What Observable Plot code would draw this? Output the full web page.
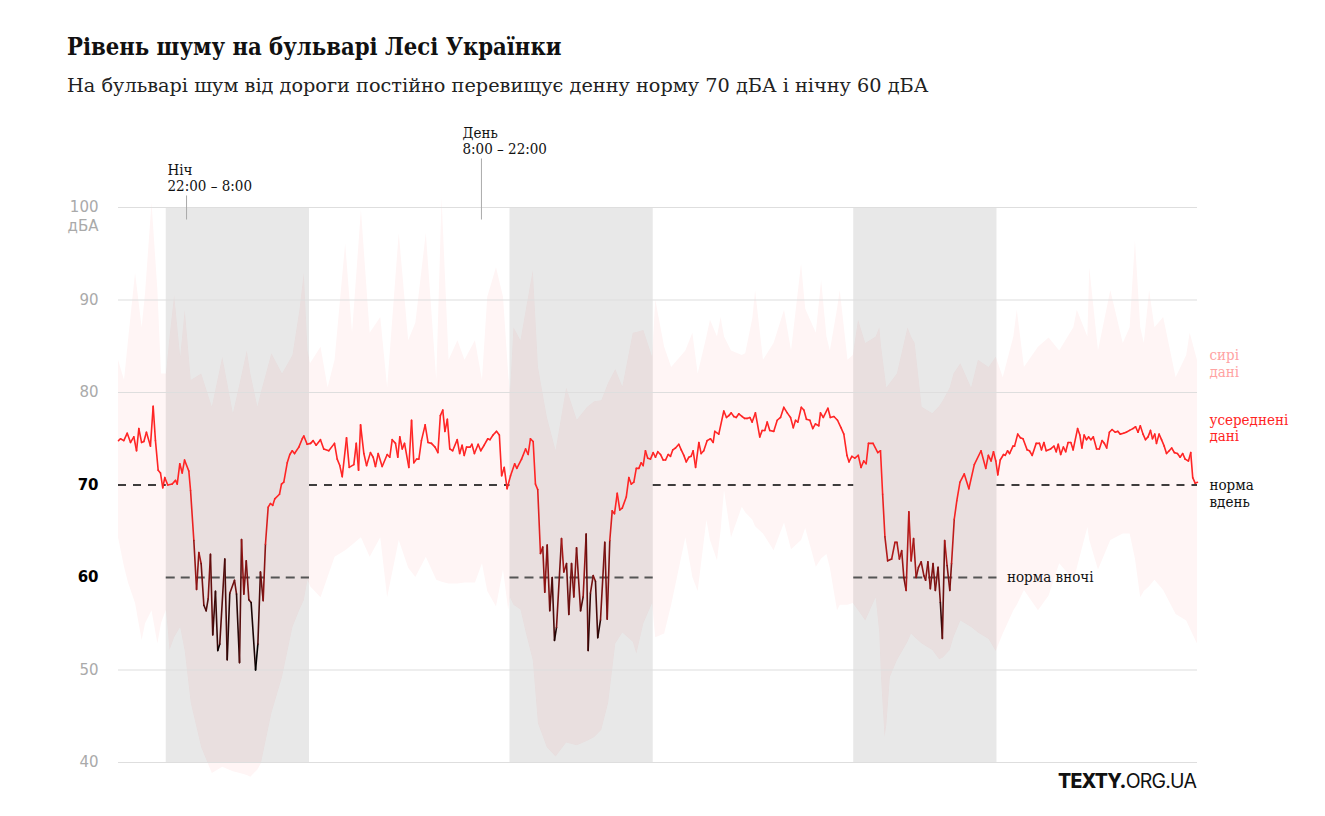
<!DOCTYPE html>
<html><head><meta charset="utf-8">
<script src="https://cdn.jsdelivr.net/npm/d3@7"></script>
<script src="https://cdn.jsdelivr.net/npm/@observablehq/plot@0.6"></script>
<style>
body{margin:0;background:#fff;width:1325px;height:816px;overflow:hidden;position:relative;font-family:"DejaVu Serif Condensed","DejaVu Serif",serif;}
#title{position:absolute;left:67px;top:33px;font-size:23.6px;font-weight:bold;color:#111;white-space:nowrap;}
#subtitle{position:absolute;left:67px;top:74px;font-family:"DejaVu Serif",serif;font-size:19.3px;color:#222;white-space:nowrap;}
#chart{position:absolute;left:0;top:110px;}
#logo{position:absolute;left:1058px;top:769px;font-family:Inter,Roboto,sans-serif;font-size:19.5px;color:#111;letter-spacing:-0.8px;white-space:nowrap;}
#logo b{font-weight:800;}
</style></head><body>
<div id="title">Рівень шуму на бульварі Лесі Українки</div>
<div id="subtitle">На бульварі шум від дороги постійно перевищує денну норму 70 дБА і нічну 60 дБА</div>
<div id="chart"></div>
<div id="logo"><b>TEXTY.</b>ORG.UA</div>
<script>
// hours since 18:40 of the first day, averaged level in dBA
const avgSeries = [[0,74.8],[0.14,75.0],[0.37,74.8],[0.61,75.6],[0.84,74.6],[1.07,75.2],[1.26,73.7],[1.42,76.1],[1.61,74.6],[1.77,74.7],[1.95,75.7],[2.23,74.2],[2.42,78.5],[2.58,74.8],[2.77,71.6],[2.93,71.3],[3.09,69.7],[3.23,70.8],[3.44,70.0],[3.75,70.1],[3.98,70.5],[4.10,70.1],[4.28,72.3],[4.45,71.3],[4.61,72.7],[4.91,71.5],[5.03,69.4],[5.26,64.0],[5.45,58.7],[5.61,62.7],[5.77,61.5],[5.96,57.0],[6.12,56.4],[6.26,57.7],[6.42,62.5],[6.58,53.8],[6.77,58.5],[6.93,52.1],[7.07,52.8],[7.42,62.0],[7.59,51.1],[7.77,58.3],[8.10,59.7],[8.24,58.2],[8.45,50.8],[8.59,64.1],[8.75,58.2],[8.92,61.8],[9.10,57.6],[9.26,57.3],[9.57,50.0],[9.73,52.8],[9.91,60.6],[10.10,57.5],[10.26,63.6],[10.45,67.6],[10.61,68.0],[10.77,67.8],[10.91,68.5],[11.24,69.0],[11.38,70.1],[11.54,70.3],[11.78,72.4],[11.96,73.3],[12.13,73.7],[12.29,73.4],[12.59,74.1],[12.83,75.0],[12.94,75.3],[13.17,74.4],[13.41,74.5],[13.59,74.8],[13.80,74.3],[14.10,74.9],[14.33,73.9],[14.68,73.7],[15.08,74.5],[15.27,72.8],[15.45,72.1],[15.62,70.9],[15.92,75.1],[16.11,71.9],[16.43,72.2],[16.60,74.5],[16.76,71.6],[16.90,76.5],[17.13,73.4],[17.32,72.1],[17.59,73.5],[17.78,73.0],[17.94,72.0],[18.13,73.4],[18.41,72.0],[18.76,73.3],[18.94,73.0],[19.11,74.9],[19.34,74.5],[19.50,73.0],[19.64,75.2],[19.81,73.9],[19.97,74.5],[20.27,71.9],[20.46,77.0],[20.62,72.4],[20.81,72.8],[20.97,72.8],[21.15,74.8],[21.41,76.5],[21.61,74.6],[21.85,74.5],[22.10,74.1],[22.30,73.5],[22.47,77.5],[22.64,78.1],[22.79,75.8],[22.96,77.1],[23.13,73.9],[23.33,73.7],[23.65,74.9],[23.82,73.4],[23.99,74.3],[24.14,73.2],[24.30,74.1],[24.55,74.1],[24.67,74.4],[24.85,73.4],[25.11,74.4],[25.29,73.7],[25.53,74.3],[25.78,75.0],[25.94,74.9],[26.15,75.4],[26.39,75.8],[26.59,75.4],[26.75,71.0],[26.93,71.9],[27.13,69.6],[27.37,71.0],[27.66,72.3],[27.81,71.8],[28.14,72.8],[28.42,73.9],[28.60,73.3],[28.76,75.0],[28.95,74.7],[29.11,70.1],[29.27,69.5],[29.46,62.6],[29.62,63.3],[29.76,58.4],[29.93,63.5],[30.11,56.4],[30.28,60.0],[30.44,53.2],[30.58,54.6],[30.93,64.2],[31.09,60.6],[31.28,61.5],[31.44,56.0],[31.63,61.5],[31.79,57.9],[31.98,63.2],[32.26,56.4],[32.44,57.9],[32.65,64.7],[32.79,52.1],[32.95,58.3],[33.14,60.2],[33.30,59.6],[33.46,53.5],[33.65,55.4],[33.95,63.8],[34.12,55.5],[34.30,64.0],[34.47,67.2],[34.63,66.9],[34.82,69.1],[35.00,67.3],[35.17,67.5],[35.45,68.7],[35.63,70.8],[35.80,70.1],[35.98,70.3],[36.15,71.8],[36.33,71.8],[36.49,72.4],[36.63,72.1],[36.79,73.7],[36.95,72.9],[37.14,72.8],[37.33,73.5],[37.49,73.0],[37.65,73.6],[37.84,73.3],[38.03,72.7],[38.19,72.7],[38.38,73.3],[38.54,73.1],[38.70,73.8],[38.89,74.0],[39.12,74.4],[39.29,73.8],[39.47,73.2],[39.64,72.5],[39.82,73.0],[39.98,73.1],[40.12,73.7],[40.29,71.9],[40.52,74.6],[40.68,73.4],[40.86,73.7],[41.10,74.8],[41.33,75.0],[41.52,74.6],[41.63,75.8],[41.91,75.5],[42.26,78.0],[42.45,77.3],[42.61,77.5],[42.78,77.8],[42.96,77.4],[43.13,77.3],[43.31,77.7],[43.55,77.4],[43.71,77.2],[43.89,77.2],[44.08,77.3],[44.24,76.8],[44.47,77.8],[44.77,75.2],[44.94,75.9],[45.12,75.9],[45.29,76.8],[45.47,75.9],[45.75,75.8],[45.99,77.0],[46.22,77.3],[46.45,78.4],[46.69,77.8],[46.92,77.3],[47.11,76.2],[47.27,77.0],[47.43,76.8],[47.67,78.4],[47.85,78.1],[48.03,77.1],[48.27,77.0],[48.47,76.1],[48.66,76.6],[48.89,76.4],[49.01,77.8],[49.21,77.3],[49.53,78.3],[49.70,77.3],[49.95,77.4],[50.20,77.0],[50.44,76.2],[50.64,75.5],[50.86,73.2],[51.00,72.5],[51.20,73.1],[51.41,72.9],[51.65,73.2],[51.84,71.9],[52.03,72.6],[52.20,72.3],[52.36,74.5],[52.68,74.5],[53.01,73.5],[53.20,73.7],[53.35,69.0],[53.51,64.4],[53.70,61.8],[53.98,62.0],[54.21,63.8],[54.35,63.8],[54.52,62.0],[54.68,62.9],[54.83,60.0],[54.99,58.6],[55.18,67.1],[55.34,61.8],[55.51,64.2],[55.69,60.0],[55.85,61.1],[56.04,61.7],[56.23,60.2],[56.35,59.7],[56.51,61.7],[56.68,58.8],[56.87,61.5],[57.03,58.6],[57.22,61.1],[57.38,57.3],[57.52,53.4],[57.68,64.0],[57.85,61.3],[58.04,58.6],[58.16,61.5],[58.35,66.3],[58.53,68.3],[58.75,70.3],[59.05,71.2],[59.37,69.6],[59.75,72.2],[60.22,73.7],[60.55,71.8],[60.73,73.2],[60.92,72.6],[61.09,73.6],[61.25,72.6],[61.39,71.1],[61.56,72.7],[61.79,73.3],[61.91,73.2],[62.07,73.7],[62.21,73.4],[62.45,74.2],[62.56,74.2],[62.78,75.5],[62.97,75.1],[63.15,75.0],[63.44,73.8],[63.60,73.7],[63.79,73.2],[64.07,74.5],[64.30,74.5],[64.44,73.8],[64.61,74.6],[64.77,73.7],[65.08,73.9],[65.31,74.2],[65.47,73.6],[65.61,74.4],[65.78,73.3],[65.97,74.1],[66.13,73.6],[66.30,74.6],[66.49,74.6],[66.65,73.8],[66.96,76.1],[67.12,75.4],[67.26,74.0],[67.42,75.4],[67.58,74.9],[67.73,75.2],[67.89,74.9],[68.06,75.2],[68.29,73.9],[68.48,73.9],[68.67,74.8],[68.83,74.5],[68.99,74.0],[69.18,75.7],[69.37,76.0],[69.60,75.7],[69.77,75.8],[69.94,75.5],[70.17,75.6],[70.36,75.7],[70.59,75.9],[70.82,76.1],[71.01,76.3],[71.18,75.7],[71.34,76.4],[71.53,75.5],[71.70,74.9],[71.88,75.2],[72.05,75.9],[72.19,75.0],[72.35,75.5],[72.47,74.5],[72.65,75.5],[72.82,74.9],[73.01,74.2],[73.17,73.4],[73.36,73.7],[73.53,74.0],[73.72,73.5],[73.93,73.4],[74.12,73.0],[74.30,73.4],[74.47,72.8],[74.70,72.6],[74.86,73.5],[75.00,70.8],[75.17,70.2],[75.33,70.3]];

// raw data envelope: [hour, min dBA, max dBA]
const rawSeries = [[0,64.3,83.5],[0.42,61.1,81.3],[0.70,59.4,85.6],[1.19,57.2,92.9],[1.65,53.2,87.0],[1.89,55.0,90.7],[2.34,56.4,100.5],[2.75,52.8,91.0],[3.00,55.0,82.0],[3.35,56.5,82.0],[3.60,52.1,86.0],[3.92,53.5,90.5],[4.34,54.6,83.8],[4.66,52.0,88.9],[5.08,46.4,81.3],[5.81,41.6,82.0],[6.55,38.8,78.4],[7.28,39.5,83.8],[8.02,39.0,77.7],[8.50,38.8,81.0],[8.99,38.6,84.5],[9.24,38.4,82.0],[9.73,39.2,78.4],[9.98,39.9,80.0],[10.71,45.3,84.2],[11.45,49.2,82.0],[12.18,54.6,84.0],[12.67,56.5,88.9],[12.97,57.5,92.9],[13.23,59.7,84.5],[13.41,59.0,83.1],[14.14,57.8,84.9],[14.63,60.0,80.5],[15.12,62.2,83.5],[15.86,62.9,96.1],[16.34,63.5,86.4],[16.96,64.3,99.7],[17.57,62.2,86.4],[18.31,64.3,88.1],[18.79,57.8,80.5],[19.60,64.0,97.2],[20.26,61.0,85.6],[20.76,60.0,87.5],[21.49,62.2,97.2],[22.22,59.7,81.3],[22.59,59.5,101.0],[23.08,59.3,83.5],[23.70,59.3,85.6],[24.19,59.4,83.5],[24.92,59.4,85.6],[25.41,61.5,81.3],[25.78,58.5,90.3],[26.39,56.8,93.5],[26.88,60.8,90.3],[27.24,56.5,82.0],[27.37,57.8,79.9],[27.61,57.0,87.0],[28.10,56.5,85.6],[28.47,54.0,88.9],[28.96,51.0,93.2],[29.32,44.2,82.7],[29.94,41.6,77.3],[30.55,40.6,73.7],[31.29,42.1,80.5],[32.03,41.8,77.0],[32.76,42.3,78.4],[33.25,42.7,79.0],[33.74,43.5,79.1],[34.22,46.4,81.0],[34.72,52.8,82.5],[35.21,54.0,80.6],[35.94,53.0,86.4],[36.19,51.7,86.5],[36.68,55.0,86.7],[37.29,57.2,83.8],[37.51,53.5,90.0],[38.13,53.9,84.9],[38.62,57.0,82.7],[39.61,64.3,84.5],[40.10,60.0,86.4],[40.47,58.5,82.0],[41.08,66.2,86.0],[41.33,64.0,87.8],[41.82,61.8,86.0],[42.07,65.0,88.1],[42.31,69.4,86.0],[42.80,64.3,84.5],[43.55,67.6,84.0],[43.79,67.0,84.2],[44.29,66.2,88.0],[44.48,65.5,91.0],[45.03,64.7,83.5],[45.77,62.9,85.3],[46.50,65.9,88.9],[46.99,63.0,84.5],[47.69,64.0,93.9],[47.98,65.3,89.0],[48.72,61.1,86.4],[49.09,62.0,92.1],[49.46,62.5,86.0],[49.70,61.0,84.5],[50.20,56.4,89.0],[50.39,57.0,91.0],[50.93,57.0,83.5],[51.30,57.2,84.0],[51.67,56.4,87.8],[52.17,55.3,85.3],[52.90,57.8,86.0],[53.15,54.0,87.0],[53.27,49.2,85.0],[53.52,42.7,82.0],[53.64,44.0,80.5],[53.89,49.2,81.0],[54.38,51.0,82.0],[55.12,53.0,87.0],[55.37,53.9,86.0],[55.62,53.5,85.3],[56.11,52.8,78.4],[56.85,52.1,77.7],[57.33,51.1,78.5],[57.59,51.3,79.1],[58.07,52.1,80.5],[58.33,53.5,82.0],[58.81,55.3,83.1],[59.56,54.6,80.5],[60.04,54.0,83.5],[60.78,53.3,82.7],[61.28,52.0,83.8],[61.77,53.9,81.6],[62.51,56.4,86.0],[62.75,57.0,88.9],[63.25,58.6,82.7],[64.23,56.4,84.9],[64.97,58.0,85.9],[65.71,61.5,84.5],[66.70,59.7,87.0],[66.94,61.0,88.9],[67.68,65.4,86.0],[67.81,64.0,93.5],[68.42,60.8,84.5],[69.28,64.0,91.0],[70.15,64.7,85.3],[70.63,64.7,87.0],[71.00,62.0,96.4],[71.37,57.8,87.0],[71.62,58.5,85.3],[71.99,59.0,91.0],[72.36,59.7,87.0],[72.97,58.6,88.1],[73.84,56.0,81.6],[74.58,55.3,84.0],[74.82,54.5,86.4],[75.33,52.8,83.5]];

// night periods 22:00–8:00 and day periods 8:00–22:00 (hours since 18:40)
const nightStart = [3.333, 27.333, 51.333];
const nightEnd   = [13.333, 37.333, 61.333];
const dayStart   = [0, 13.333, 37.333, 61.333];
const dayEnd     = [3.333, 27.333, 51.333, 75.333];
const dayNorm = 70, nightNorm = 60;

const grayTicks = [100, 90, 80, 50, 40];
const darkTicks = [70, 60];
const gridTicks = [100, 90, 80, 50, 40];

const annotations = [
  {h: 4.75, label: "Ніч\n22:00 – 8:00", top: 101.3},
  {h: 25.34, label: "День\n8:00 – 22:00", top: 105.3}
];
const rightLabels = [
  {label: "сирі\nдані", y: 83.2, color: "#ffa3a3"},
  {label: "усереднені\nдані", y: 76.2, color: "#ff2424"},
  {label: "норма\nвдень", y: 69.1, color: "#111"}
];

const avg = avgSeries.map(([h, db]) => ({h, db}));
const segs = d3.pairs(avg).map(([a, b]) => ({x1: a.h, y1: a.db, x2: b.h, y2: b.db, v: (a.db + b.db) / 2}));
const raw = rawSeries.map(([h, lo, hi]) => ({h, lo, hi}));
const nights = nightStart.map((s, i) => ({start: s, end: nightEnd[i], norm: nightNorm}));
const days = dayStart.map((s, i) => ({start: s, end: dayEnd[i], norm: dayNorm}));
const serif = '"DejaVu Serif Condensed","DejaVu Serif",serif';

const chart = Plot.plot({
  width: 1325, height: 672,
  marginLeft: 118, marginRight: 128, marginTop: 97, marginBottom: 20,
  x: {domain: [0, 75.333], axis: null},
  y: {domain: [40, 100], axis: null},
  color: {type: "linear", domain: [52, 68], range: ["#000000", "#ff2525"], clamp: true},
  style: {background: "transparent", overflow: "visible", fontFamily: serif, fontSize: "15px"},
  marks: [
    Plot.rect(nights, {x1: "start", x2: "end", fill: "#e8e8e8"}),
    Plot.areaY(raw, {x: "h", y1: "lo", y2: "hi", fill: "#ff1010", fillOpacity: 0.045}),
    Plot.ruleY(gridTicks, {stroke: "#dedede", strokeWidth: 1.2}),
    Plot.ruleY(days, {y: "norm", x1: "start", x2: "end", stroke: "#000", strokeWidth: 1.5, strokeDasharray: "8,7"}),
    Plot.ruleY(nights, {y: "norm", x1: "start", x2: "end", stroke: "#555", strokeWidth: 2, strokeDasharray: "9,6"}),
    Plot.link(segs, {x1: "x1", y1: "y1", x2: "x2", y2: "y2", stroke: "v", strokeWidth: 1.6, strokeLinecap: "round"}),
    Plot.text(grayTicks, {y: d => d, frameAnchor: "left", dx: -20, textAnchor: "end", fill: "#aaa", fontFamily: "DejaVu Sans", fontSize: 15}),
    Plot.text(["дБА"], {y: 100, frameAnchor: "left", dx: -20, dy: 19, textAnchor: "end", fill: "#aaa", fontFamily: "DejaVu Sans", fontSize: 15}),
    Plot.text(darkTicks, {y: d => d, frameAnchor: "left", dx: -20, textAnchor: "end", fill: "#000", fontFamily: "DejaVu Sans", fontSize: 15, fontWeight: "bold"}),
    Plot.link(annotations, {x1: "h", x2: "h", y1: "top", y2: 98.7, stroke: "#aaa", strokeWidth: 1}),
    Plot.text(annotations, {x: "h", y: "top", text: "label", textAnchor: "start", lineAnchor: "bottom", dx: -19, dy: -4, fill: "#111", lineHeight: 1.12}),
    Plot.text(rightLabels, {y: "y", text: "label", frameAnchor: "right", dx: 12, textAnchor: "start", lineAnchor: "middle", fill: "color", lineHeight: 1.12}),
    Plot.text(["норма вночі"], {x: nightEnd[2], y: nightNorm, dx: 10, textAnchor: "start", lineAnchor: "middle", fill: "#111"})
  ]
});
document.getElementById("chart").appendChild(chart);
</script>
</body></html>
